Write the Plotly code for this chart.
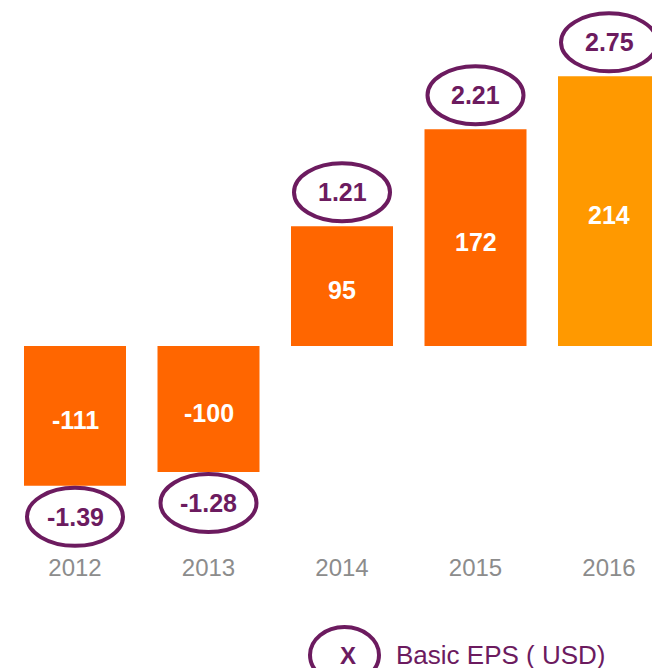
import plotly.graph_objects as go

# ---- data ----
years = ["2012", "2013", "2014", "2015", "2016"]
net_income = [-111, -100, 95, 172, 214]
eps = [-1.39, -1.28, 1.21, 2.21, 2.75]
legend_label = "Basic EPS ( USD)"
legend_marker = "X"

# ---- styles ----
bar_colors = ["#FF6600", "#FF6600", "#FF6600", "#FF6600", "#FF9900"]
purple = "#6C1B5F"
gray = "#8C8C8C"
font_family = "Liberation Sans, Arial, sans-serif"

W, H = 652, 668
plot_bottom_px = 550
zero_px = 346
px_per_unit = 1.26

idx = list(range(len(years)))

fig = go.Figure()
fig.add_trace(go.Bar(
    x=idx, y=net_income,
    marker=dict(color=bar_colors, line=dict(width=0)),
    width=0.764,
    hoverinfo="skip",
))

shapes = []
annotations = []
for i, v, e in zip(idx, net_income, eps):
    # value label inside the bar
    annotations.append(dict(
        x=i, y=v / 2, xref="x", yref="y", yshift=-4,
        text="<b>%d</b>" % v, showarrow=False,
        font=dict(size=25, color="white", family=font_family),
        xanchor="center", yanchor="middle",
    ))
    # EPS ellipse + label
    off = 34 if v >= 0 else -31
    shapes.append(dict(
        type="circle", xref="x", yref="y",
        xsizemode="pixel", ysizemode="pixel",
        xanchor=i, yanchor=v,
        x0=-48, x1=48, y0=off - 29, y1=off + 29,
        line=dict(color=purple, width=4),
        fillcolor="rgba(0,0,0,0)", layer="above",
    ))
    annotations.append(dict(
        x=i, y=v, xref="x", yref="y", yshift=off,
        text="<b>%.2f</b>" % e, showarrow=False,
        font=dict(size=25, color=purple, family=font_family),
        xanchor="center", yanchor="middle",
    ))

# legend (custom ellipse marker + label)
plot_h = plot_bottom_px
def py(pix):
    return (plot_bottom_px - pix) / plot_h

shapes.append(dict(
    type="circle", xref="paper", yref="paper",
    xsizemode="pixel", ysizemode="pixel",
    xanchor=344.5 / W, yanchor=py(655),
    x0=-34.5, x1=34.5, y0=-28, y1=28,
    line=dict(color=purple, width=4),
    fillcolor="rgba(0,0,0,0)", layer="above",
))
annotations.append(dict(
    x=348 / W, y=py(655), xref="paper", yref="paper",
    text="<b>%s</b>" % legend_marker, showarrow=False,
    font=dict(size=24, color=purple, family=font_family),
    xanchor="center", yanchor="middle",
))
annotations.append(dict(
    x=394 / W, y=py(655), xref="paper", yref="paper",
    text=legend_label, showarrow=False,
    font=dict(size=26, color=purple, family=font_family),
    xanchor="left", yanchor="middle",
))

fig.update_layout(
    width=W, height=H,
    margin=dict(l=0, r=0, t=0, b=H - plot_bottom_px, pad=0),
    paper_bgcolor="white", plot_bgcolor="white",
    showlegend=False,
    shapes=shapes, annotations=annotations,
    font=dict(family=font_family),
    xaxis=dict(
        tickmode="array", tickvals=idx, ticktext=years,
        range=[(0 - 75) / 133.5, (W - 75) / 133.5],
        showgrid=False, zeroline=False, showline=False, ticks="",
        tickfont=dict(size=24, color=gray, family=font_family),
        ticklabelstandoff=1,
        fixedrange=True,
    ),
    yaxis=dict(
        range=[(zero_px - plot_bottom_px) / px_per_unit, zero_px / px_per_unit],
        visible=False, showgrid=False, zeroline=False,
        fixedrange=True,
    ),
)

fig.write_html(
    "out.html",
    config={"displayModeBar": False},
    post_script="document.body.style.margin='0';document.body.style.padding='0';document.body.style.overflow='hidden';",
)
